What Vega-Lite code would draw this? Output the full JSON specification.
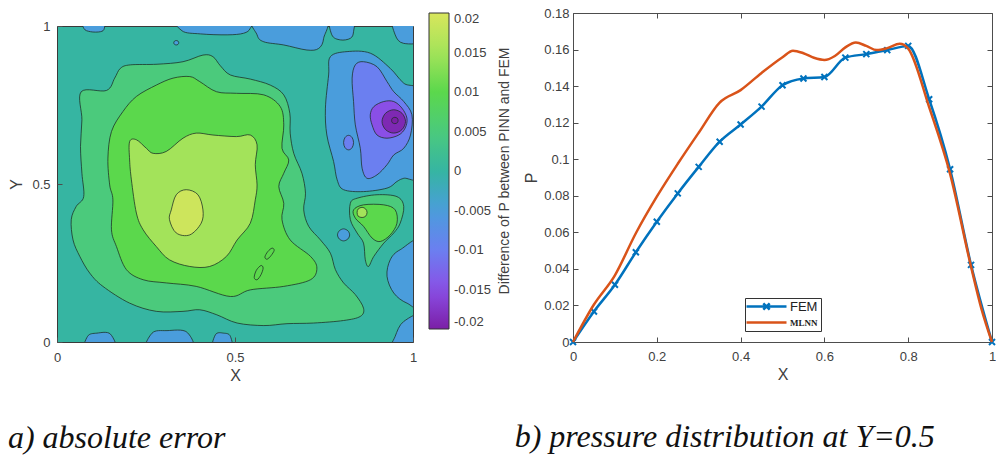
{
  "$schema": "https://vega.github.io/schema/vega-lite/v6.json",
  "background": "white",
  "padding": {"left": 7, "top": 6, "right": 0, "bottom": 0},
  "spacing": 1,
  "config": {
    "font": "Liberation Sans",
    "axis": {"labelFont": "Liberation Sans", "labelFontSize": 13, "labelColor": "#404040", "titleFont": "Liberation Sans", "titleFontSize": 16, "titleFontWeight": "normal", "titleColor": "#404040", "tickColor": "#4d4d4d", "grid": false, "domain": false, "labelFlush": false, "labelOverlap": false, "tickSize": -5, "labelPadding": 13},
    "view": {"stroke": "#4d4d4d"},
    "title": {"font": "Liberation Serif", "fontStyle": "italic", "fontWeight": "normal", "color": "#111111"}
  },
  "datasets": {
    "contours": [
      {"id":"A","o":1,"x":0.068,"y":0.792,"v":0.005},{"id":"A","o":2,"x":0.139,"y":0.796,"v":0.005},{"id":"A","o":3,"x":0.162,"y":0.835,"v":0.005},{"id":"A","o":4,"x":0.178,"y":0.866,"v":0.005},{"id":"A","o":5,"x":0.206,"y":0.877,"v":0.005},{"id":"A","o":6,"x":0.281,"y":0.879,"v":0.005},{"id":"A","o":7,"x":0.354,"y":0.887,"v":0.005},{"id":"A","o":8,"x":0.41,"y":0.908,"v":0.005},{"id":"A","o":9,"x":0.438,"y":0.903,"v":0.005},{"id":"A","o":10,"x":0.459,"y":0.874,"v":0.005},{"id":"A","o":11,"x":0.487,"y":0.845,"v":0.005},{"id":"A","o":12,"x":0.543,"y":0.832,"v":0.005},{"id":"A","o":13,"x":0.599,"y":0.813,"v":0.005},{"id":"A","o":14,"x":0.637,"y":0.782,"v":0.005},{"id":"A","o":15,"x":0.654,"y":0.724,"v":0.005},{"id":"A","o":16,"x":0.655,"y":0.661,"v":0.005},{"id":"A","o":17,"x":0.665,"y":0.597,"v":0.005},{"id":"A","o":18,"x":0.688,"y":0.534,"v":0.005},{"id":"A","o":19,"x":0.698,"y":0.471,"v":0.005},{"id":"A","o":20,"x":0.693,"y":0.418,"v":0.005},{"id":"A","o":21,"x":0.707,"y":0.366,"v":0.005},{"id":"A","o":22,"x":0.74,"y":0.323,"v":0.005},{"id":"A","o":23,"x":0.768,"y":0.281,"v":0.005},{"id":"A","o":24,"x":0.782,"y":0.229,"v":0.005},{"id":"A","o":25,"x":0.805,"y":0.187,"v":0.005},{"id":"A","o":26,"x":0.838,"y":0.15,"v":0.005},{"id":"A","o":27,"x":0.861,"y":0.107,"v":0.005},{"id":"A","o":28,"x":0.852,"y":0.081,"v":0.005},{"id":"A","o":29,"x":0.805,"y":0.068,"v":0.005},{"id":"A","o":30,"x":0.721,"y":0.06,"v":0.005},{"id":"A","o":31,"x":0.646,"y":0.058,"v":0.005},{"id":"A","o":32,"x":0.581,"y":0.052,"v":0.005},{"id":"A","o":33,"x":0.506,"y":0.06,"v":0.005},{"id":"A","o":34,"x":0.449,"y":0.086,"v":0.005},{"id":"A","o":35,"x":0.401,"y":0.102,"v":0.005},{"id":"A","o":36,"x":0.354,"y":0.097,"v":0.005},{"id":"A","o":37,"x":0.279,"y":0.097,"v":0.005},{"id":"A","o":38,"x":0.204,"y":0.123,"v":0.005},{"id":"A","o":39,"x":0.129,"y":0.176,"v":0.005},{"id":"A","o":40,"x":0.092,"y":0.218,"v":0.005},{"id":"A","o":41,"x":0.064,"y":0.271,"v":0.005},{"id":"A","o":42,"x":0.045,"y":0.323,"v":0.005},{"id":"A","o":43,"x":0.04,"y":0.387,"v":0.005},{"id":"A","o":44,"x":0.054,"y":0.429,"v":0.005},{"id":"A","o":45,"x":0.075,"y":0.46,"v":0.005},{"id":"A","o":46,"x":0.07,"y":0.534,"v":0.005},{"id":"A","o":47,"x":0.066,"y":0.619,"v":0.005},{"id":"A","o":48,"x":0.07,"y":0.703,"v":0.005},
      {"id":"R2g","o":1,"x":0.148,"y":0.497,"v":0.01},{"id":"R2g","o":2,"x":0.143,"y":0.582,"v":0.01},{"id":"R2g","o":3,"x":0.153,"y":0.666,"v":0.01},{"id":"R2g","o":4,"x":0.185,"y":0.729,"v":0.01},{"id":"R2g","o":5,"x":0.223,"y":0.777,"v":0.01},{"id":"R2g","o":6,"x":0.279,"y":0.813,"v":0.01},{"id":"R2g","o":7,"x":0.326,"y":0.835,"v":0.01},{"id":"R2g","o":8,"x":0.373,"y":0.84,"v":0.01},{"id":"R2g","o":9,"x":0.401,"y":0.824,"v":0.01},{"id":"R2g","o":10,"x":0.448,"y":0.792,"v":0.01},{"id":"R2g","o":11,"x":0.504,"y":0.787,"v":0.01},{"id":"R2g","o":12,"x":0.581,"y":0.782,"v":0.01},{"id":"R2g","o":13,"x":0.627,"y":0.745,"v":0.01},{"id":"R2g","o":14,"x":0.637,"y":0.687,"v":0.01},{"id":"R2g","o":15,"x":0.632,"y":0.613,"v":0.01},{"id":"R2g","o":16,"x":0.651,"y":0.576,"v":0.01},{"id":"R2g","o":17,"x":0.637,"y":0.534,"v":0.01},{"id":"R2g","o":18,"x":0.623,"y":0.492,"v":0.01},{"id":"R2g","o":19,"x":0.637,"y":0.439,"v":0.01},{"id":"R2g","o":20,"x":0.632,"y":0.387,"v":0.01},{"id":"R2g","o":21,"x":0.655,"y":0.323,"v":0.01},{"id":"R2g","o":22,"x":0.712,"y":0.271,"v":0.01},{"id":"R2g","o":23,"x":0.73,"y":0.234,"v":0.01},{"id":"R2g","o":24,"x":0.712,"y":0.197,"v":0.01},{"id":"R2g","o":25,"x":0.637,"y":0.176,"v":0.01},{"id":"R2g","o":26,"x":0.543,"y":0.165,"v":0.01},{"id":"R2g","o":27,"x":0.487,"y":0.144,"v":0.01},{"id":"R2g","o":28,"x":0.391,"y":0.176,"v":0.01},{"id":"R2g","o":29,"x":0.307,"y":0.187,"v":0.01},{"id":"R2g","o":30,"x":0.242,"y":0.197,"v":0.01},{"id":"R2g","o":31,"x":0.195,"y":0.229,"v":0.01},{"id":"R2g","o":32,"x":0.167,"y":0.302,"v":0.01},{"id":"R2g","o":33,"x":0.153,"y":0.355,"v":0.01},{"id":"R2g","o":34,"x":0.157,"y":0.45,"v":0.01},
      {"id":"R3g","o":1,"x":0.204,"y":0.634,"v":0.015},{"id":"R3g","o":2,"x":0.223,"y":0.64,"v":0.015},{"id":"R3g","o":3,"x":0.251,"y":0.613,"v":0.015},{"id":"R3g","o":4,"x":0.27,"y":0.597,"v":0.015},{"id":"R3g","o":5,"x":0.307,"y":0.603,"v":0.015},{"id":"R3g","o":6,"x":0.354,"y":0.645,"v":0.015},{"id":"R3g","o":7,"x":0.391,"y":0.661,"v":0.015},{"id":"R3g","o":8,"x":0.438,"y":0.655,"v":0.015},{"id":"R3g","o":9,"x":0.504,"y":0.65,"v":0.015},{"id":"R3g","o":10,"x":0.543,"y":0.655,"v":0.015},{"id":"R3g","o":11,"x":0.562,"y":0.624,"v":0.015},{"id":"R3g","o":12,"x":0.557,"y":0.561,"v":0.015},{"id":"R3g","o":13,"x":0.562,"y":0.497,"v":0.015},{"id":"R3g","o":14,"x":0.557,"y":0.45,"v":0.015},{"id":"R3g","o":15,"x":0.543,"y":0.376,"v":0.015},{"id":"R3g","o":16,"x":0.506,"y":0.323,"v":0.015},{"id":"R3g","o":17,"x":0.476,"y":0.271,"v":0.015},{"id":"R3g","o":18,"x":0.429,"y":0.239,"v":0.015},{"id":"R3g","o":19,"x":0.373,"y":0.239,"v":0.015},{"id":"R3g","o":20,"x":0.316,"y":0.26,"v":0.015},{"id":"R3g","o":21,"x":0.279,"y":0.302,"v":0.015},{"id":"R3g","o":22,"x":0.242,"y":0.355,"v":0.015},{"id":"R3g","o":23,"x":0.223,"y":0.408,"v":0.015},{"id":"R3g","o":24,"x":0.209,"y":0.513,"v":0.015},{"id":"R3g","o":25,"x":0.204,"y":0.576,"v":0.015},
      {"id":"C","o":1,"x":0.321,"y":0.418,"v":0.019},{"id":"C","o":2,"x":0.335,"y":0.466,"v":0.019},{"id":"C","o":3,"x":0.363,"y":0.482,"v":0.019},{"id":"C","o":4,"x":0.396,"y":0.466,"v":0.019},{"id":"C","o":5,"x":0.41,"y":0.418,"v":0.019},{"id":"C","o":6,"x":0.405,"y":0.376,"v":0.019},{"id":"C","o":7,"x":0.373,"y":0.339,"v":0.019},{"id":"C","o":8,"x":0.335,"y":0.345,"v":0.019},{"id":"C","o":9,"x":0.316,"y":0.387,"v":0.019},
      {"id":"E1","o":1,"x":0.604,"y":0.297,"v":0.01},{"id":"E1","o":2,"x":0.61,"y":0.29,"v":0.01},{"id":"E1","o":3,"x":0.601,"y":0.273,"v":0.01},{"id":"E1","o":4,"x":0.59,"y":0.262,"v":0.01},{"id":"E1","o":5,"x":0.584,"y":0.269,"v":0.01},{"id":"E1","o":6,"x":0.592,"y":0.286,"v":0.01},
      {"id":"E2","o":1,"x":0.573,"y":0.242,"v":0.01},{"id":"E2","o":2,"x":0.579,"y":0.234,"v":0.01},{"id":"E2","o":3,"x":0.573,"y":0.213,"v":0.01},{"id":"E2","o":4,"x":0.562,"y":0.197,"v":0.01},{"id":"E2","o":5,"x":0.554,"y":0.204,"v":0.01},{"id":"E2","o":6,"x":0.56,"y":0.227,"v":0.01},
      {"id":"G","o":1,"x":0.824,"y":0.439,"v":0.005},{"id":"G","o":2,"x":0.843,"y":0.455,"v":0.005},{"id":"G","o":3,"x":0.899,"y":0.466,"v":0.005},{"id":"G","o":4,"x":0.955,"y":0.46,"v":0.005},{"id":"G","o":5,"x":0.974,"y":0.429,"v":0.005},{"id":"G","o":6,"x":0.964,"y":0.376,"v":0.005},{"id":"G","o":7,"x":0.946,"y":0.345,"v":0.005},{"id":"G","o":8,"x":0.918,"y":0.313,"v":0.005},{"id":"G","o":9,"x":0.89,"y":0.271,"v":0.005},{"id":"G","o":10,"x":0.875,"y":0.239,"v":0.005},{"id":"G","o":11,"x":0.866,"y":0.26,"v":0.005},{"id":"G","o":12,"x":0.861,"y":0.313,"v":0.005},{"id":"G","o":13,"x":0.843,"y":0.345,"v":0.005},{"id":"G","o":14,"x":0.824,"y":0.387,"v":0.005},
      {"id":"G2","o":1,"x":0.833,"y":0.418,"v":0.01},{"id":"G2","o":2,"x":0.861,"y":0.434,"v":0.01},{"id":"G2","o":3,"x":0.918,"y":0.434,"v":0.01},{"id":"G2","o":4,"x":0.95,"y":0.418,"v":0.01},{"id":"G2","o":5,"x":0.955,"y":0.376,"v":0.01},{"id":"G2","o":6,"x":0.936,"y":0.339,"v":0.01},{"id":"G2","o":7,"x":0.908,"y":0.318,"v":0.01},{"id":"G2","o":8,"x":0.885,"y":0.329,"v":0.01},{"id":"G2","o":9,"x":0.861,"y":0.366,"v":0.01},{"id":"G2","o":10,"x":0.838,"y":0.392,"v":0.01},
      {"id":"G3","o":1,"x":0.871,"y":0.41,"v":0.015},{"id":"G3","o":2,"x":0.867,"y":0.421,"v":0.015},{"id":"G3","o":3,"x":0.857,"y":0.426,"v":0.015},{"id":"G3","o":4,"x":0.846,"y":0.421,"v":0.015},{"id":"G3","o":5,"x":0.843,"y":0.41,"v":0.015},{"id":"G3","o":6,"x":0.846,"y":0.398,"v":0.015},{"id":"G3","o":7,"x":0.857,"y":0.394,"v":0.015},{"id":"G3","o":8,"x":0.867,"y":0.398,"v":0.015},
      {"id":"Bs","o":1,"x":0.822,"y":0.339,"v":-0.005},{"id":"Bs","o":2,"x":0.817,"y":0.352,"v":-0.005},{"id":"Bs","o":3,"x":0.805,"y":0.358,"v":-0.005},{"id":"Bs","o":4,"x":0.793,"y":0.352,"v":-0.005},{"id":"Bs","o":5,"x":0.788,"y":0.339,"v":-0.005},{"id":"Bs","o":6,"x":0.793,"y":0.326,"v":-0.005},{"id":"Bs","o":7,"x":0.805,"y":0.32,"v":-0.005},{"id":"Bs","o":8,"x":0.817,"y":0.326,"v":-0.005},
      {"id":"Tc","o":1,"x":0.342,"y":0.947,"v":-0.005},{"id":"Tc","o":2,"x":0.34,"y":0.952,"v":-0.005},{"id":"Tc","o":3,"x":0.335,"y":0.954,"v":-0.005},{"id":"Tc","o":4,"x":0.33,"y":0.952,"v":-0.005},{"id":"Tc","o":5,"x":0.328,"y":0.947,"v":-0.005},{"id":"Tc","o":6,"x":0.33,"y":0.942,"v":-0.005},{"id":"Tc","o":7,"x":0.335,"y":0.94,"v":-0.005},{"id":"Tc","o":8,"x":0.34,"y":0.942,"v":-0.005},
      {"id":"B1","o":1,"x":0.073,"y":1.03,"v":-0.005},{"id":"B1","o":2,"x":0.075,"y":0.993,"v":-0.005},{"id":"B1","o":3,"x":0.094,"y":0.982,"v":-0.005},{"id":"B1","o":4,"x":0.122,"y":0.982,"v":-0.005},{"id":"B1","o":5,"x":0.133,"y":0.993,"v":-0.005},{"id":"B1","o":6,"x":0.131,"y":1.03,"v":-0.005},
      {"id":"B2","o":1,"x":0.342,"y":1.03,"v":-0.005},{"id":"B2","o":2,"x":0.351,"y":0.985,"v":-0.005},{"id":"B2","o":3,"x":0.403,"y":0.975,"v":-0.005},{"id":"B2","o":4,"x":0.478,"y":0.972,"v":-0.005},{"id":"B2","o":5,"x":0.524,"y":0.977,"v":-0.005},{"id":"B2","o":6,"x":0.543,"y":0.993,"v":-0.005},{"id":"B2","o":7,"x":0.545,"y":1.03,"v":-0.005},
      {"id":"B3","o":1,"x":0.557,"y":1.03,"v":-0.005},{"id":"B3","o":2,"x":0.562,"y":0.972,"v":-0.005},{"id":"B3","o":3,"x":0.581,"y":0.95,"v":-0.005},{"id":"B3","o":4,"x":0.637,"y":0.94,"v":-0.005},{"id":"B3","o":5,"x":0.702,"y":0.924,"v":-0.005},{"id":"B3","o":6,"x":0.735,"y":0.929,"v":-0.005},{"id":"B3","o":7,"x":0.749,"y":0.961,"v":-0.005},{"id":"B3","o":8,"x":0.747,"y":1.03,"v":-0.005},
      {"id":"B4","o":1,"x":0.768,"y":1.03,"v":-0.005},{"id":"B4","o":2,"x":0.772,"y":0.972,"v":-0.005},{"id":"B4","o":3,"x":0.796,"y":0.956,"v":-0.005},{"id":"B4","o":4,"x":0.824,"y":0.961,"v":-0.005},{"id":"B4","o":5,"x":0.833,"y":0.982,"v":-0.005},{"id":"B4","o":6,"x":0.831,"y":1.03,"v":-0.005},
      {"id":"B5","o":1,"x":0.946,"y":1.03,"v":-0.005},{"id":"B5","o":2,"x":0.95,"y":0.972,"v":-0.005},{"id":"B5","o":3,"x":0.974,"y":0.945,"v":-0.005},{"id":"B5","o":4,"x":1.03,"y":0.955,"v":-0.005},{"id":"B5","o":5,"x":1.03,"y":1.03,"v":-0.005},
      {"id":"R1","o":1,"x":0.768,"y":0.903,"v":-0.005},{"id":"R1","o":2,"x":0.815,"y":0.919,"v":-0.005},{"id":"R1","o":3,"x":0.88,"y":0.914,"v":-0.005},{"id":"R1","o":4,"x":0.936,"y":0.866,"v":-0.005},{"id":"R1","o":5,"x":0.974,"y":0.819,"v":-0.005},{"id":"R1","o":6,"x":1.03,"y":0.777,"v":-0.005},{"id":"R1","o":7,"x":1.03,"y":0.534,"v":-0.005},{"id":"R1","o":8,"x":0.974,"y":0.518,"v":-0.005},{"id":"R1","o":9,"x":0.955,"y":0.508,"v":-0.005},{"id":"R1","o":10,"x":0.927,"y":0.487,"v":-0.005},{"id":"R1","o":11,"x":0.861,"y":0.476,"v":-0.005},{"id":"R1","o":12,"x":0.805,"y":0.482,"v":-0.005},{"id":"R1","o":13,"x":0.787,"y":0.513,"v":-0.005},{"id":"R1","o":14,"x":0.777,"y":0.571,"v":-0.005},{"id":"R1","o":15,"x":0.758,"y":0.655,"v":-0.005},{"id":"R1","o":16,"x":0.754,"y":0.74,"v":-0.005},{"id":"R1","o":17,"x":0.763,"y":0.845,"v":-0.005},
      {"id":"BB1","o":1,"x":0.08,"y":-0.03,"v":-0.005},{"id":"BB1","o":2,"x":0.086,"y":0.018,"v":-0.005},{"id":"BB1","o":3,"x":0.112,"y":0.028,"v":-0.005},{"id":"BB1","o":4,"x":0.15,"y":0.025,"v":-0.005},{"id":"BB1","o":5,"x":0.163,"y":-0.03,"v":-0.005},
      {"id":"BB2","o":1,"x":0.255,"y":-0.03,"v":-0.005},{"id":"BB2","o":2,"x":0.267,"y":0.028,"v":-0.005},{"id":"BB2","o":3,"x":0.309,"y":0.036,"v":-0.005},{"id":"BB2","o":4,"x":0.365,"y":0.031,"v":-0.005},{"id":"BB2","o":5,"x":0.378,"y":-0.03,"v":-0.005},
      {"id":"BB3","o":1,"x":0.437,"y":-0.03,"v":-0.005},{"id":"BB3","o":2,"x":0.445,"y":0.023,"v":-0.005},{"id":"BB3","o":3,"x":0.468,"y":0.028,"v":-0.005},{"id":"BB3","o":4,"x":0.487,"y":0.018,"v":-0.005},{"id":"BB3","o":5,"x":0.49,"y":-0.03,"v":-0.005},
      {"id":"RB1","o":1,"x":1.03,"y":0.318,"v":-0.005},{"id":"RB1","o":2,"x":0.964,"y":0.292,"v":-0.005},{"id":"RB1","o":3,"x":0.936,"y":0.26,"v":-0.005},{"id":"RB1","o":4,"x":0.927,"y":0.208,"v":-0.005},{"id":"RB1","o":5,"x":0.946,"y":0.155,"v":-0.005},{"id":"RB1","o":6,"x":0.983,"y":0.123,"v":-0.005},{"id":"RB1","o":7,"x":1.03,"y":0.115,"v":-0.005},
      {"id":"RB2","o":1,"x":1.03,"y":0.085,"v":-0.005},{"id":"RB2","o":2,"x":0.974,"y":0.065,"v":-0.005},{"id":"RB2","o":3,"x":0.95,"y":0.018,"v":-0.005},{"id":"RB2","o":4,"x":0.941,"y":-0.03,"v":-0.005},{"id":"RB2","o":5,"x":1.03,"y":-0.03,"v":-0.005},
      {"id":"R2","o":1,"x":0.838,"y":0.877,"v":-0.01},{"id":"R2","o":2,"x":0.861,"y":0.887,"v":-0.01},{"id":"R2","o":3,"x":0.899,"y":0.871,"v":-0.01},{"id":"R2","o":4,"x":0.927,"y":0.824,"v":-0.01},{"id":"R2","o":5,"x":0.946,"y":0.792,"v":-0.01},{"id":"R2","o":6,"x":0.974,"y":0.761,"v":-0.01},{"id":"R2","o":7,"x":0.997,"y":0.719,"v":-0.01},{"id":"R2","o":8,"x":0.993,"y":0.655,"v":-0.01},{"id":"R2","o":9,"x":0.974,"y":0.613,"v":-0.01},{"id":"R2","o":10,"x":0.946,"y":0.592,"v":-0.01},{"id":"R2","o":11,"x":0.927,"y":0.561,"v":-0.01},{"id":"R2","o":12,"x":0.899,"y":0.529,"v":-0.01},{"id":"R2","o":13,"x":0.871,"y":0.518,"v":-0.01},{"id":"R2","o":14,"x":0.857,"y":0.55,"v":-0.01},{"id":"R2","o":15,"x":0.852,"y":0.613,"v":-0.01},{"id":"R2","o":16,"x":0.838,"y":0.687,"v":-0.01},{"id":"R2","o":17,"x":0.833,"y":0.761,"v":-0.01},{"id":"R2","o":18,"x":0.829,"y":0.835,"v":-0.01},
      {"id":"R2s","o":1,"x":0.833,"y":0.631,"v":-0.01},{"id":"R2s","o":2,"x":0.829,"y":0.647,"v":-0.01},{"id":"R2s","o":3,"x":0.819,"y":0.654,"v":-0.01},{"id":"R2s","o":4,"x":0.809,"y":0.647,"v":-0.01},{"id":"R2s","o":5,"x":0.805,"y":0.631,"v":-0.01},{"id":"R2s","o":6,"x":0.809,"y":0.615,"v":-0.01},{"id":"R2s","o":7,"x":0.819,"y":0.608,"v":-0.01},{"id":"R2s","o":8,"x":0.829,"y":0.615,"v":-0.01},
      {"id":"R3","o":1,"x":0.89,"y":0.745,"v":-0.015},{"id":"R3","o":2,"x":0.918,"y":0.761,"v":-0.015},{"id":"R3","o":3,"x":0.946,"y":0.761,"v":-0.015},{"id":"R3","o":4,"x":0.969,"y":0.74,"v":-0.015},{"id":"R3","o":5,"x":0.983,"y":0.708,"v":-0.015},{"id":"R3","o":6,"x":0.978,"y":0.677,"v":-0.015},{"id":"R3","o":7,"x":0.96,"y":0.655,"v":-0.015},{"id":"R3","o":8,"x":0.927,"y":0.645,"v":-0.015},{"id":"R3","o":9,"x":0.899,"y":0.655,"v":-0.015},{"id":"R3","o":10,"x":0.885,"y":0.687,"v":-0.015},{"id":"R3","o":11,"x":0.88,"y":0.719,"v":-0.015},
      {"id":"R4","o":1,"x":0.979,"y":0.698,"v":-0.019},{"id":"R4","o":2,"x":0.969,"y":0.724,"v":-0.019},{"id":"R4","o":3,"x":0.946,"y":0.735,"v":-0.019},{"id":"R4","o":4,"x":0.923,"y":0.724,"v":-0.019},{"id":"R4","o":5,"x":0.913,"y":0.698,"v":-0.019},{"id":"R4","o":6,"x":0.923,"y":0.672,"v":-0.019},{"id":"R4","o":7,"x":0.946,"y":0.661,"v":-0.019},{"id":"R4","o":8,"x":0.969,"y":0.672,"v":-0.019},
      {"id":"R5","o":1,"x":0.958,"y":0.701,"v":-0.02},{"id":"R5","o":2,"x":0.956,"y":0.708,"v":-0.02},{"id":"R5","o":3,"x":0.949,"y":0.711,"v":-0.02},{"id":"R5","o":4,"x":0.942,"y":0.708,"v":-0.02},{"id":"R5","o":5,"x":0.94,"y":0.701,"v":-0.02},{"id":"R5","o":6,"x":0.942,"y":0.694,"v":-0.02},{"id":"R5","o":7,"x":0.949,"y":0.691,"v":-0.02},{"id":"R5","o":8,"x":0.956,"y":0.694,"v":-0.02}
    ],
    "fem": [
      {"s":"FEM","x":0,"p":0},{"s":"FEM","x":0.05,"p":0.0167},{"s":"FEM","x":0.1,"p":0.0313},{"s":"FEM","x":0.15,"p":0.0491},{"s":"FEM","x":0.2,"p":0.0658},{"s":"FEM","x":0.25,"p":0.0813},{"s":"FEM","x":0.3,"p":0.0958},{"s":"FEM","x":0.35,"p":0.1096},{"s":"FEM","x":0.4,"p":0.119},{"s":"FEM","x":0.45,"p":0.1288},{"s":"FEM","x":0.5,"p":0.1405},{"s":"FEM","x":0.55,"p":0.1442},{"s":"FEM","x":0.6,"p":0.145},{"s":"FEM","x":0.65,"p":0.1556},{"s":"FEM","x":0.7,"p":0.1575},{"s":"FEM","x":0.75,"p":0.1597},{"s":"FEM","x":0.8,"p":0.162},{"s":"FEM","x":0.85,"p":0.1328},{"s":"FEM","x":0.9,"p":0.0945},{"s":"FEM","x":0.95,"p":0.0422},{"s":"FEM","x":1,"p":0}
    ],
    "mlnn": [
      {"s":"MLNN","x":0,"p":0},{"s":"MLNN","x":0.05,"p":0.0205},{"s":"MLNN","x":0.1,"p":0.0365},{"s":"MLNN","x":0.15,"p":0.0595},{"s":"MLNN","x":0.2,"p":0.0795},{"s":"MLNN","x":0.25,"p":0.0975},{"s":"MLNN","x":0.3,"p":0.1145},{"s":"MLNN","x":0.35,"p":0.131},{"s":"MLNN","x":0.4,"p":0.1378},{"s":"MLNN","x":0.45,"p":0.1472},{"s":"MLNN","x":0.5,"p":0.1558},{"s":"MLNN","x":0.525,"p":0.1594},{"s":"MLNN","x":0.55,"p":0.158},{"s":"MLNN","x":0.575,"p":0.1555},{"s":"MLNN","x":0.6,"p":0.1543},{"s":"MLNN","x":0.625,"p":0.1565},{"s":"MLNN","x":0.65,"p":0.1612},{"s":"MLNN","x":0.675,"p":0.1638},{"s":"MLNN","x":0.7,"p":0.162},{"s":"MLNN","x":0.725,"p":0.1597},{"s":"MLNN","x":0.75,"p":0.1608},{"s":"MLNN","x":0.78,"p":0.1632},{"s":"MLNN","x":0.8,"p":0.1605},{"s":"MLNN","x":0.85,"p":0.1285},{"s":"MLNN","x":0.9,"p":0.092},{"s":"MLNN","x":0.95,"p":0.0412},{"s":"MLNN","x":0.975,"p":0.018},{"s":"MLNN","x":1,"p":0}
    ]
  },
  "hconcat": [
    {
      "spacing": 5,
      "vconcat": [
        {
          "width": 356,
          "height": 1,
          "data": {"values": []},
          "mark": "point",
          "encoding": {},
          "view": {"stroke": null}
        },
        {
          "width": 356,
          "height": 316,
          "title": {"text": "a) absolute error", "orient": "bottom", "anchor": "start", "frame": "bounds", "fontSize": 32, "offset": 40, "dx": -1},
          "view": {"fill": "#36b5a2", "stroke": "#3a3a3a", "strokeWidth": 1},
          "data": {"name": "contours"},
          "encoding": {
            "x": {"field": "x", "type": "quantitative", "scale": {"domain": [0, 1], "nice": false, "zero": false}, "axis": {"title": "X", "values": [0, 0.5, 1], "format": "~g", "labelPadding": 14, "titlePadding": 3}},
            "y": {"field": "y", "type": "quantitative", "scale": {"domain": [0, 1], "nice": false, "zero": false}, "axis": {"title": "Y", "values": [0, 0.5, 1], "format": "~g", "labelPadding": 12, "titlePadding": 7}},
            "color": {
              "field": "v", "type": "quantitative",
              "scale": {"domain": [-0.02, -0.015, -0.01, -0.005, 0, 0.005, 0.01, 0.015, 0.02], "range": ["#7b1fa6", "#8a4fe6", "#6b7ff0", "#4a9ddc", "#36b5a2", "#4bca7c", "#5bd84c", "#a3e35a", "#d8e65c"], "interpolate": "rgb"},
              "legend": {
                "direction": "vertical", "orient": "right", "offset": 11, "padding": 0,
                "gradientLength": 316, "gradientThickness": 20, "gradientStrokeColor": "#333333", "gradientStrokeWidth": 1,
                "values": [-0.02, -0.015, -0.01, -0.005, 0, 0.005, 0.01, 0.015, 0.02],
                "labelExpr": "replace(format(datum.value, '~g'), '\u2212', '-')",
                "labelFontSize": 13, "labelColor": "#404040", "labelOffset": 5, "labelOverlap": false,
                "title": "Difference of P between PINN and FEM",
                "titleOrient": "right", "titleAnchor": "middle", "titleFontSize": 14, "titleFontWeight": "normal", "titleColor": "#404040", "titlePadding": 21, "titleLimit": 500,
                "encoding": {"title": {"angle": {"value": -90}}}
              }
            },
            "detail": {"field": "id"},
            "order": {"field": "o"}
          },
          "layer": [
            {"transform": [{"filter": "abs(datum.v) < 0.007"}], "mark": {"type": "line", "filled": true, "interpolate": "cardinal-closed", "stroke": "#1c2e25", "strokeWidth": 0.9, "strokeOpacity": 0.85, "clip": true}},
            {"transform": [{"filter": "abs(datum.v) > 0.007 && abs(datum.v) < 0.012 && datum.id != 'E1' && datum.id != 'E2'"}], "mark": {"type": "line", "filled": true, "interpolate": "cardinal-closed", "stroke": "#1c2e25", "strokeWidth": 0.9, "strokeOpacity": 0.85, "clip": true}},
            {"transform": [{"filter": "(abs(datum.v) > 0.012 && abs(datum.v) < 0.017) || datum.id == 'E1' || datum.id == 'E2'"}], "mark": {"type": "line", "filled": true, "interpolate": "cardinal-closed", "stroke": "#1c2e25", "strokeWidth": 0.9, "strokeOpacity": 0.85, "clip": true}},
            {"transform": [{"filter": "abs(datum.v) > 0.017"}], "mark": {"type": "line", "filled": true, "interpolate": "cardinal-closed", "stroke": "#1c2e25", "strokeWidth": 0.9, "strokeOpacity": 0.85, "clip": true}}
          ]
        }
      ]
    },
    {
      "width": 419,
      "height": 329,
      "title": {"text": "b) pressure distribution at Y=0.5", "orient": "bottom", "anchor": "start", "frame": "bounds", "fontSize": 32, "offset": 40, "dx": -9},
      "view": {"stroke": "#4d4d4d", "strokeWidth": 1},
      "layer": [
        {
          "data": {"name": "fem"},
          "mark": {"type": "line", "strokeWidth": 2.5, "interpolate": "monotone"},
          "encoding": {
            "x": {"field": "x", "type": "quantitative", "scale": {"domain": [0, 1], "nice": false, "zero": false}, "axis": {"orient": "bottom", "title": "X", "values": [0, 0.2, 0.4, 0.6, 0.8, 1], "format": "~g", "labelPadding": 13, "titlePadding": 3}},
            "y": {"field": "p", "type": "quantitative", "scale": {"domain": [0, 0.18], "nice": false, "zero": false}, "axis": {"orient": "left", "title": "P", "values": [0, 0.02, 0.04, 0.06, 0.08, 0.1, 0.12, 0.14, 0.16, 0.18], "format": "~g", "labelPadding": 9, "titlePadding": 4}},
            "color": {
              "field": "s", "type": "nominal",
              "scale": {"domain": ["FEM", "MLNN"], "range": ["#0072BD", "#D95319"]},
              "legend": {
                "orient": "none", "legendX": 172, "legendY": 285, "title": null, "direction": "vertical",
                "fillColor": "white", "strokeColor": "#333333", "padding": 3, "rowPadding": 2,
                "symbolType": "M-5,0H5", "symbolSize": 64, "symbolStrokeWidth": 2.5, "symbolOffset": 13,
                "labelFont": "Liberation Sans", "labelFontSize": 13, "labelColor": "#222222", "labelOffset": 18,
                "encoding": {
                  "symbols": {"shape": {"condition": {"test": "datum.label == 'FEM'", "value": "M-5,0H5M-0.8,-0.8L0.8,0.8M-0.8,0.8L0.8,-0.8"}, "value": "M-5,0H5"}},
                  "labels": {"font": {"condition": {"test": "datum.label == 'MLNN'", "value": "Liberation Serif"}, "value": "Liberation Sans"}, "fontWeight": {"condition": {"test": "datum.label == 'MLNN'", "value": "bold"}, "value": "normal"}, "fontSize": {"condition": {"test": "datum.label == 'MLNN'", "value": 9}, "value": 13}}
                }
              }
            }
          }
        },
        {
          "data": {"name": "fem"},
          "mark": {"type": "point", "shape": "M-1,-1L1,1M-1,1L1,-1", "size": 36, "filled": false, "strokeWidth": 2, "opacity": 1},
          "encoding": {
            "x": {"field": "x", "type": "quantitative", "axis": null},
            "y": {"field": "p", "type": "quantitative", "axis": null},
            "color": {"field": "s", "type": "nominal", "legend": null}
          }
        },
        {
          "data": {"name": "mlnn"},
          "mark": {"type": "line", "strokeWidth": 2.5, "interpolate": "monotone"},
          "encoding": {
            "x": {"field": "x", "type": "quantitative", "axis": null},
            "y": {"field": "p", "type": "quantitative", "axis": null},
            "color": {"field": "s", "type": "nominal", "legend": null}
          }
        },
        {
          "data": {"name": "fem"},
          "mark": {"type": "point", "opacity": 0},
          "encoding": {
            "x": {"field": "x", "type": "quantitative", "axis": {"orient": "top", "labels": false, "title": null, "values": [0, 0.2, 0.4, 0.6, 0.8, 1]}},
            "y": {"field": "p", "type": "quantitative", "axis": {"orient": "right", "labels": false, "title": null, "values": [0, 0.02, 0.04, 0.06, 0.08, 0.1, 0.12, 0.14, 0.16, 0.18]}}
          }
        }
      ],
      "resolve": {"axis": {"x": "independent", "y": "independent"}}
    }
  ]
}
